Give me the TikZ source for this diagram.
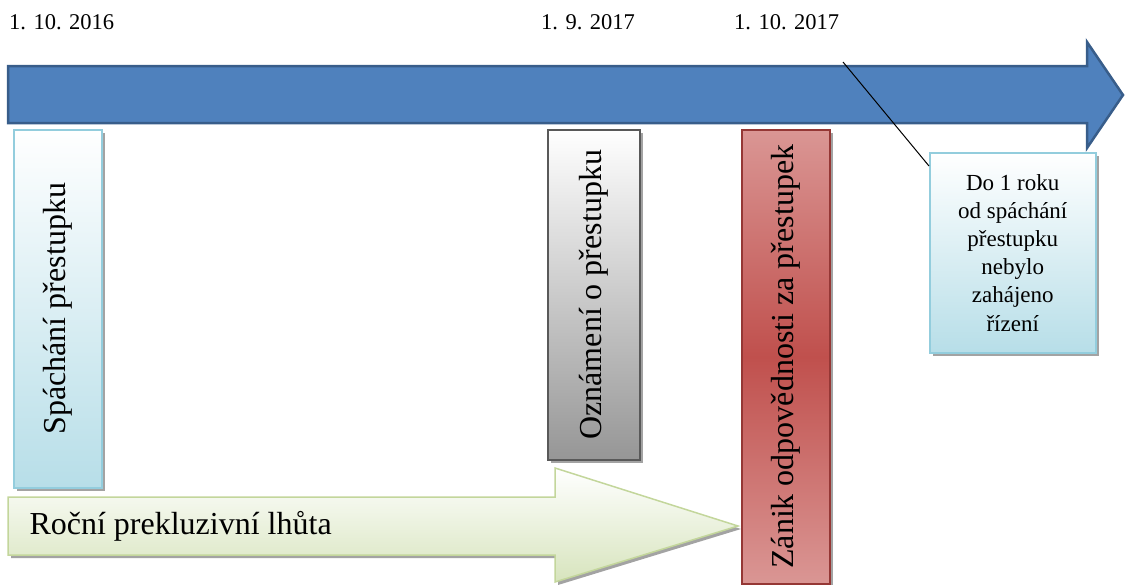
\documentclass[tikz,border=0pt]{standalone}
\usepackage{fontspec}
\setmainfont{Liberation Serif}
\usetikzlibrary{positioning,shadows}
\definecolor{axisblue}{HTML}{4F81BD}
\definecolor{axisedge}{HTML}{385D8A}
\definecolor{aquaedge}{HTML}{93CDDD}
\definecolor{aquafill}{HTML}{B7DEE8}
\definecolor{greyedge}{HTML}{595959}
\definecolor{greyfill}{HTML}{969696}
\definecolor{redmid}{HTML}{C0504D}
\definecolor{redlight}{HTML}{DA9694}
\definecolor{rededge}{HTML}{953735}
\definecolor{greenedge}{HTML}{C3D69B}
\definecolor{greenfill}{HTML}{D7E4BD}
\tikzset{
    %Define shadow for all boxes
    boxshadow/.style={
           drop shadow={shadow xshift=3pt, shadow yshift=-3pt,
                        fill=black!45, opacity=.8}},
    %Define style for the event boxes
    event/.style={
           rectangle,
           line width=1.5pt,
           inner sep=0pt,
           anchor=north west,
           font=\fontsize{32}{34}\selectfont,
           boxshadow},
    lightbox/.style={
           event,
           draw=aquaedge,
           top color=white,
           bottom color=aquafill},
    greybox/.style={
           event,
           draw=greyedge,
           top color=white,
           bottom color=greyfill},
    redbox/.style={
           event,
           draw=rededge,
           top color=redlight,
           bottom color=redlight,
           middle color=redmid},
    date/.style={
           anchor=west,
           inner sep=0pt,
           font=\fontsize{22.5}{24}\selectfont},
    timeline/.style={
           draw=axisedge,
           line width=2.5pt,
           fill=axisblue,
           line join=miter},
    period/.style={
           draw=greenedge,
           line width=1.5pt,
           top color=white,
           bottom color=greenfill,
           boxshadow}
}

\begin{document}
\begin{tikzpicture}[x=1pt,y=-1pt]
\useasboundingbox (0,0) rectangle (1126,584);
 %time axis
\draw[timeline] (8,66) -- (1087,66) -- (1087,42) -- (1123,95) -- (1087,148)
    -- (1087,123) -- (8,123) -- cycle;
\node[date] (d1) at (9,22) {1. 10. 2016};
\node[date] (d2) at (541,22) {1. 9. 2017};
\node[date] (d3) at (734,22) {1. 10. 2017};
 %events
\node[lightbox, minimum width=88pt, minimum height=358pt] (commit) at (13,129)
    {\rotatebox{90}{Spáchání přestupku}};
\node[greybox, minimum width=92pt, minimum height=330pt] (report) at (547,129)
    {\rotatebox{90}{Oznámení o přestupku}};
\node[redbox, minimum width=88pt, minimum height=454pt] (lapse) at (741,129)
    {\rotatebox{90}{Zánik odpovědnosti za přestupek}};
\node[lightbox, minimum width=166pt, minimum height=200pt, align=center,
    font=\fontsize{23}{28.2}\selectfont] (note) at (929,152)
    {Do 1 roku\\od spáchání\\přestupku\\nebylo\\zahájeno\\řízení};
\coordinate (pin) at (843,62);
\draw[line width=1pt] (pin) -- (note.134);
 %limitation period
\draw[period] (8,497) -- (555,497) -- (555,468) -- (738,526) -- (555,582)
    -- (555,555) -- (8,555) -- cycle;
\node[anchor=west, font=\fontsize{32}{34}\selectfont] (term) at (26,526)
    {Roční prekluzivní lhůta};
\end{tikzpicture}
\end{document}
